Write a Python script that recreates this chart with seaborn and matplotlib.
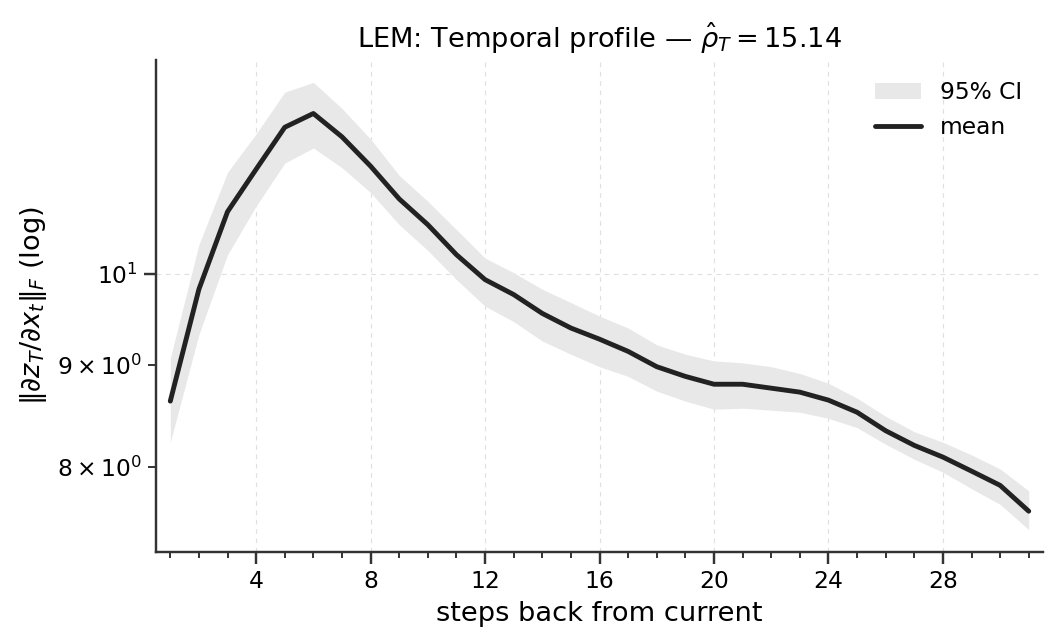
import numpy as np
import pandas as pd
import seaborn as sns
import matplotlib.pyplot as plt
from matplotlib.ticker import MultipleLocator

# steps back from the current position
steps = list(range(1, 32))

# mean gradient norm per step
grad_mean = [8.63, 9.82, 10.74, 11.28, 11.84, 12.03, 11.71, 11.32, 10.90, 10.58,
             10.22, 9.93, 9.76, 9.55, 9.39, 9.27, 9.14, 8.98, 8.88, 8.80,
             8.80, 8.76, 8.72, 8.64, 8.52, 8.34, 8.20, 8.09, 7.96, 7.83, 7.60]

# 95% CI bounds
ci_low = [8.23, 9.32, 10.22, 10.81, 11.36, 11.56, 11.30, 10.98, 10.58, 10.27,
          9.93, 9.63, 9.46, 9.25, 9.11, 8.98, 8.88, 8.73, 8.63, 8.55,
          8.56, 8.54, 8.52, 8.46, 8.37, 8.21, 8.07, 7.95, 7.80, 7.66, 7.44]
ci_high = [9.07, 10.34, 11.24, 11.75, 12.33, 12.47, 12.10, 11.68, 11.20, 10.87,
           10.52, 10.18, 10.01, 9.82, 9.67, 9.52, 9.39, 9.21, 9.11, 9.04,
           9.02, 8.98, 8.91, 8.81, 8.66, 8.48, 8.33, 8.23, 8.11, 7.98, 7.78]

rho_hat = 15.14

df = pd.DataFrame({"step": steps, "mean": grad_mean, "lo": ci_low, "hi": ci_high})

sns.set_theme(style="ticks", rc={"text.color": "black", "axes.labelcolor": "black",
                                 "xtick.color": "#333333", "ytick.color": "#333333",
                                 "xtick.labelcolor": "black", "ytick.labelcolor": "black",
                                 "axes.edgecolor": "#333333"})
plt.rcParams['font.family'] = ['DejaVu Sans']

fig, ax = plt.subplots(figsize=(7.6, 4.6), dpi=140)
fig.subplots_adjust(left=0.1466, right=0.9803, top=0.9068, bottom=0.1429)

ax.fill_between(df["step"], df["lo"], df["hi"], color="#e8e8e8", linewidth=0, label="95% CI")
sns.lineplot(data=df, x="step", y="mean", ax=ax, color="#222222", linewidth=2.5, label="mean")

ax.set_yscale("log")
ax.set_xlim(0.5, 31.5)
ax.xaxis.set_major_locator(MultipleLocator(4))
ax.xaxis.set_minor_locator(MultipleLocator(1))
ax.tick_params(axis="x", which="minor", length=3)

ax.grid(True, which="major", linestyle=(0, (4, 4)), linewidth=0.6, color="#e0e0e0")
sns.despine(ax=ax)

ax.set_title(r"LEM: Temporal profile — $\hat{\rho}_T = %.2f$" % rho_hat, fontsize=14)
ax.set_xlabel("steps back from current", fontsize=14)
ax.set_ylabel(r"$\|\partial z_T/\partial x_t\|_F$ (log)", fontsize=14)
ax.tick_params(which="both", labelsize=12)

ax.legend(loc="upper right", frameon=False, fontsize=12)

fig.savefig("out.png", dpi=140)
plt.close(fig)
